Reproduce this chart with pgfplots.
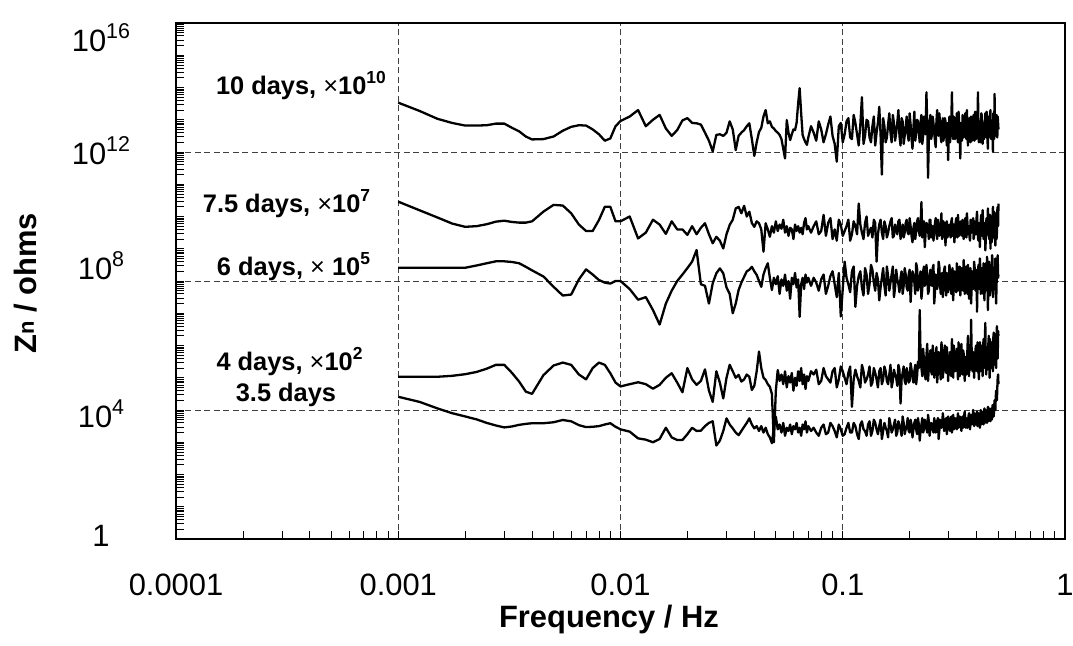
\documentclass[border=0pt]{standalone}
\usepackage{fontspec}
\setmainfont{Liberation Sans}
\usepackage{pgfplots}
\pgfplotsset{compat=1.18}
\usepackage{pgfplotstable}

% log10 of Z_n (shifted curves), f in Hz
% a: 10 days x1e10, b: 7.5 days x1e7, c: 6 days x1e5, d: 4 days x1e2, e: 3.5 days
\pgfplotstableread{
f a b c d e
0.001 13.53 10.46 8.41 5.03 4.41
0.00125 13.27 10.19 8.41 5.03 4.25
0.0015 13.03 9.97 8.41 5.03 4.05
0.00175 12.90 9.78 8.41 5.06 3.90
0.002 12.82 9.68 8.41 5.11 3.80
0.00225 12.82 9.70 8.48 5.18 3.71
0.0025 12.83 9.76 8.55 5.28 3.60
0.00275 12.88 9.84 8.61 5.40 3.52
0.003 12.88 9.87 8.61 5.40 3.46
0.00325 12.75 9.83 8.59 5.15 3.49
0.0035 12.64 9.81 8.55 4.88 3.54
0.00375 12.48 9.81 8.44 4.57 3.57
0.004 12.39 9.85 8.33 4.50 3.59
0.0045 12.40 10.15 8.14 5.08 3.59
0.005 12.48 10.36 7.82 5.38 3.62
0.0055 12.66 10.34 7.55 5.47 3.69
0.006 12.78 10.10 7.58 5.40 3.65
0.0065 12.83 9.75 8.05 5.10 3.53
0.007 12.82 9.55 8.36 4.95 3.47
0.0075 12.70 9.55 8.20 5.30 3.48
0.008 12.55 9.89 8.03 5.47 3.50
0.0085 12.35 10.30 7.95 5.40 3.55
0.009 12.42 10.30 7.92 5.14 3.59
0.0095 12.80 9.85 8.00 4.85 3.48
0.010 12.96 9.85 8.00 4.73 3.40
0.011 13.10 10.00 7.75 4.80 3.33
0.012 13.30 9.32 7.42 4.86 3.12
0.013 12.80 9.50 7.50 4.80 3.08
0.014 13.00 9.90 7.10 4.66 3.00
0.015 13.15 9.75 6.65 4.78 3.10
0.016 12.73 9.46 7.30 5.00 3.45
0.017 12.50 9.85 7.70 5.14 3.15
0.018 12.68 9.60 8.00 4.85 3.07
0.019 12.98 9.60 8.20 4.55 3.07
0.020 13.05 9.43 8.40 5.30 3.25
0.021 12.90 9.70 8.60 4.95 3.45
0.022 12.89 9.45 8.96 4.78 3.35
0.023 12.85 9.65 7.90 4.90 3.36
0.024 12.60 9.79 7.85 5.26 3.50
0.025 12.35 9.45 7.30 4.60 3.60
0.026 12.02 9.17 7.93 4.25 3.65
0.027 12.53 9.37 8.24 5.20 2.90
0.028 12.55 9.25 8.39 4.85 3.05
0.029 12.50 9.01 8.24 4.36 3.35
0.030 12.60 9.45 7.80 5.00 3.74
0.031 12.95 9.74 7.60 5.40 3.55
0.032 12.70 9.90 7.00 5.20 3.43
0.033 12.06 10.25 7.30 5.00 3.30
0.034 12.50 10.30 7.72 5.09 3.22
0.035 12.60 10.10 7.95 4.88 3.35
0.036 12.68 10.33 8.13 4.95 3.48
0.037 12.80 10.00 8.30 5.10 3.60
0.038 12.89 10.15 8.35 5.03 3.74
0.039 12.40 9.80 8.44 4.62 3.55
0.040 11.88 9.68 8.30 4.75 3.43
0.041 12.30 9.85 8.19 5.20 3.50
0.042 12.62 9.79 8.00 5.81 3.35
0.043 12.75 9.60 7.82 5.30 3.50
0.044 13.10 8.91 8.20 5.00 3.30
0.045 13.30 9.79 8.40 4.93 3.45
0.046 12.89 9.60 8.55 4.80 3.25
0.047 12.95 9.37 8.10 4.72 3.15
0.048 12.78 9.70 7.72 4.50 2.97
0.049 12.73 9.50 8.10 3.00 3.45
0.050 12.65 9.85 7.90 4.60 3.79
0.051 12.60 9.55 8.15 5.24 3.40
0.052 12.53 9.75 7.60 4.90 3.55
0.053 12.40 9.62 8.05 5.10 3.30
0.054 12.10 9.90 7.85 4.80 3.60
0.055 11.80 9.50 8.20 5.20 3.20
0.056 12.99 9.70 7.70 4.70 3.45
0.057 12.60 9.40 8.00 5.05 3.35
0.058 12.37 9.65 7.45 4.85 3.55
0.059 12.55 9.60 8.10 5.15 3.25
0.060 12.70 9.30 7.90 4.60 3.50
0.061 12.68 9.75 8.25 5.00 3.40
0.062 12.90 9.55 7.80 4.75 3.60
0.063 13.50 9.70 8.05 5.20 3.30
0.064 13.98 9.50 6.89 4.90 3.45
0.065 13.20 9.65 7.90 5.30 3.20
0.066 12.53 9.45 8.10 4.80 3.55
0.067 12.40 9.80 7.75 5.10 3.40
0.068 12.30 9.95 8.20 4.65 3.65
0.069 12.22 9.60 7.95 5.05 3.30
0.070 12.45 9.70 8.10 4.90 3.50
0.072 12.80 9.50 7.85 5.20 3.35
0.074 12.60 9.70 8.10 5.10 3.45
0.076 12.35 9.85 7.95 5.25 3.30
0.078 12.95 9.45 7.70 4.80 3.20
0.080 12.70 9.55 8.05 4.90 3.45
0.082 12.30 10.05 8.20 5.30 3.55
0.084 12.55 9.40 7.60 5.05 3.25
0.086 12.85 9.80 7.85 4.95 3.30
0.088 13.10 9.95 8.15 4.85 3.60
0.090 12.50 9.30 8.30 5.20 3.50
0.092 12.25 9.60 7.90 5.30 3.35
0.094 11.70 9.25 7.50 4.70 3.15
0.096 12.80 9.90 8.25 4.95 3.55
0.098 12.90 9.75 6.90 5.35 3.40
0.100 12.30 9.40 7.75 5.20 3.20
0.102 12.55 9.55 8.60 5.00 3.25
0.104 12.95 9.70 8.10 4.80 3.45
0.106 13.05 9.90 7.90 5.15 3.60
0.108 12.45 9.25 7.65 5.35 3.30
0.110 12.40 9.45 8.30 4.10 3.30
0.112 13.15 9.85 8.45 4.95 3.60
0.114 12.90 9.70 7.20 5.25 3.50
0.116 12.55 9.45 7.85 5.05 3.25
0.118 12.20 10.40 8.15 4.90 3.10
0.120 12.85 9.75 8.30 4.70 3.55
0.122 13.70 9.50 7.80 5.40 3.65
0.124 12.25 9.30 7.55 5.20 3.40
0.126 12.50 9.80 8.40 4.85 3.35
0.128 13.00 10.00 8.20 4.95 3.20
0.130 12.95 9.40 7.60 5.10 3.55
0.132 12.45 9.55 7.90 5.35 3.65
0.134 12.30 9.65 8.50 4.75 3.20
0.136 12.80 9.35 8.35 4.85 3.35
0.138 13.10 9.90 7.95 5.30 3.70
0.140 12.20 9.80 7.70 5.15 3.60
0.142 12.60 8.60 8.25 4.95 3.40
0.144 12.90 9.45 8.05 4.70 3.25
0.146 13.40 9.75 7.40 5.20 3.50
0.148 12.55 9.90 7.80 5.30 3.70
0.150 11.30 9.50 8.10 4.80 3.10
0.152 13.05 9.30 8.40 4.95 3.35
0.154 12.80 9.85 7.85 5.35 3.60
0.156 12.30 9.70 7.55 5.20 3.45
0.158 12.45 9.35 8.45 4.90 3.35
0.160 12.85 9.50 8.15 4.80 3.15
0.162 13.20 9.70 7.70 5.10 3.75
0.164 12.60 9.85 7.95 5.40 3.55
0.166 12.30 9.95 8.20 4.70 3.30
0.168 13.15 9.35 8.45 4.90 3.40
0.170 12.90 9.40 7.50 5.25 3.55
0.172 12.35 9.75 7.80 5.10 3.70
0.174 12.60 9.60 8.35 5.00 3.20
0.176 12.90 9.45 8.05 4.75 3.30
0.178 13.30 9.85 7.90 5.40 3.65
0.180 12.50 9.90 7.65 5.25 3.55
0.182 12.20 9.30 8.10 4.20 3.40
0.184 13.05 9.55 8.30 4.95 3.20
0.186 12.95 9.75 7.60 5.15 3.80
0.188 12.25 9.35 7.85 5.35 3.60
0.190 12.50 9.50 8.40 4.90 3.25
0.192 12.80 9.80 8.20 4.80 3.40
0.194 13.10 9.90 7.80 5.30 3.50
0.196 12.55 9.50 7.70 5.15 3.75
0.198 12.35 9.45 8.20 4.85 3.35
0.200 13.20 9.95 8.35 4.90 3.30
0.202 12.85 9.70 7.35 5.45 3.70
0.204 12.40 9.40 7.95 5.25 3.55
0.206 12.10 9.20 8.30 5.00 3.15
0.208 12.75 9.65 8.15 4.85 3.40
0.210 13.25 9.80 7.95 5.20 3.60
0.212 12.35 9.30 7.60 5.40 3.70
0.214 12.60 9.55 8.55 4.80 3.40
0.216 13.00 9.85 8.40 5.05 3.25
0.218 12.95 9.95 7.70 5.50 3.75
0.220 12.60 9.55 7.90 5.30 3.55
0.222 12.30 9.40 8.15 7.10 3.05
0.224 12.90 9.75 8.30 5.65 3.35
0.226 13.15 10.45 7.45 5.30 3.55
0.228 12.25 9.35 7.75 5.05 3.75
0.230 12.50 9.50 8.30 5.90 3.30
0.232 13.10 9.85 8.45 5.55 3.40
0.234 12.80 9.05 7.85 5.10 3.70
0.236 12.55 9.50 7.95 4.95 3.60
0.238 13.85 9.80 8.50 5.70 3.45
0.240 12.85 9.75 8.20 6.05 3.30
0.242 11.20 9.60 7.60 4.90 3.85
0.244 12.40 9.30 7.70 5.30 3.65
0.246 12.90 9.90 8.10 5.60 3.20
0.248 13.15 9.90 8.35 5.85 3.45
0.250 12.40 9.35 7.90 5.20 3.60
0.252 12.55 9.55 7.85 5.10 3.55
0.254 13.10 9.70 8.40 6.00 3.40
0.256 12.90 9.25 8.50 5.75 3.30
0.258 12.60 9.50 7.30 5.00 3.75
0.260 12.35 9.80 7.65 5.35 3.60
0.262 12.15 9.95 8.20 5.55 3.30
0.264 12.95 9.55 8.15 5.95 3.40
0.266 13.30 9.30 7.75 4.85 3.65
0.268 12.60 9.90 7.90 5.20 3.75
0.270 12.50 9.75 8.60 5.80 3.10
0.272 13.20 9.40 8.45 5.50 3.35
0.274 12.90 9.55 7.90 5.25 3.70
0.276 12.45 9.70 7.60 4.95 3.60
0.278 12.30 10.10 8.15 6.10 3.45
0.280 12.85 9.30 8.25 5.85 3.50
0.282 13.05 9.40 7.50 5.00 3.90
0.284 12.35 9.85 7.95 5.25 3.70
0.286 12.60 9.70 8.35 5.60 3.35
0.288 13.05 9.55 8.45 6.00 3.40
0.290 12.95 9.10 7.80 5.30 3.60
0.292 12.55 9.80 7.55 5.15 3.75
0.294 12.20 9.85 8.25 5.95 3.25
0.296 12.90 9.35 8.10 5.65 3.45
0.298 11.75 9.50 7.65 4.90 3.80
0.300 12.50 9.70 7.85 5.35 3.65
0.302 13.10 9.75 8.50 5.50 3.50
0.304 12.30 9.45 8.30 5.80 3.35
0.306 12.70 9.35 7.95 5.15 3.70
0.308 12.95 9.85 7.60 5.05 3.80
0.310 13.85 9.95 8.10 6.20 3.30
0.312 12.55 9.40 8.40 5.55 3.55
0.314 12.40 9.60 7.40 5.00 3.85
0.316 13.10 9.75 7.90 6.00 3.40
0.318 12.85 9.20 8.30 5.70 3.45
0.320 12.40 9.55 8.15 5.20 3.75
0.322 12.55 9.80 7.85 5.30 3.65
0.324 12.80 9.95 7.65 5.70 3.50
0.326 13.20 9.55 8.55 5.90 3.40
0.328 12.50 9.35 8.35 5.35 3.70
0.330 12.30 10.05 7.70 4.95 3.90
0.332 13.25 9.70 7.95 6.10 3.45
0.334 12.90 9.40 8.20 5.60 3.50
0.336 12.45 9.55 8.45 5.05 3.80
0.338 11.80 9.70 7.55 5.20 3.75
0.340 12.90 9.85 7.80 5.60 3.55
0.342 12.75 9.50 8.40 6.05 3.35
0.344 12.35 9.40 8.25 5.35 3.65
0.346 13.15 9.90 7.90 5.10 3.80
0.348 12.85 9.75 7.70 5.85 3.45
0.350 12.45 9.30 8.65 5.75 3.55
0.352 12.60 9.50 8.35 5.20 3.85
0.354 12.95 9.75 7.60 4.90 3.95
0.356 13.20 9.95 7.90 5.65 3.55
0.358 12.60 9.55 8.25 5.50 3.45
0.360 12.40 9.35 8.45 5.10 3.75
0.362 13.30 10.10 7.80 5.25 3.70
0.364 12.75 9.80 7.60 5.90 3.45
0.366 12.20 9.45 8.50 6.30 3.50
0.368 12.55 9.55 8.20 5.30 3.80
0.370 12.85 9.70 7.45 5.05 3.90
0.372 13.05 9.35 7.85 5.75 3.60
0.374 12.50 9.25 8.30 5.65 3.40
0.376 12.30 9.90 8.40 5.25 3.85
0.378 13.10 9.85 7.30 6.80 3.80
0.380 12.85 9.50 7.75 5.95 3.55
0.382 12.35 9.60 8.15 5.30 3.60
0.384 12.55 9.70 8.30 5.20 3.75
0.386 13.00 9.95 7.75 5.80 4.00
0.388 13.15 9.30 7.95 5.70 3.65
0.390 12.60 9.40 8.60 5.00 3.50
0.392 12.35 9.85 8.45 5.35 3.90
0.394 13.25 9.75 7.90 5.55 3.85
0.396 12.80 9.45 7.70 5.90 3.60
0.398 12.40 9.50 8.35 6.00 3.55
0.400 12.60 9.95 8.25 5.40 3.80
0.402 12.90 10.15 7.05 5.20 3.95
0.404 13.05 9.60 7.90 6.10 3.50
0.406 13.85 9.35 8.20 5.70 3.60
0.408 12.45 9.25 8.50 5.25 3.90
0.410 12.30 9.80 7.80 4.95 3.80
0.412 12.85 9.75 7.75 5.85 3.70
0.414 12.95 9.05 8.70 6.10 3.45
0.416 12.30 9.50 8.35 5.20 3.85
0.418 12.55 9.90 7.60 5.35 4.00
0.420 13.20 10.05 7.85 6.00 3.55
0.422 13.15 9.55 8.30 5.80 3.65
0.424 12.55 9.40 8.40 5.45 3.95
0.426 12.25 10.20 7.95 5.05 3.85
0.428 12.90 9.85 7.60 5.90 3.70
0.430 12.90 9.30 8.55 6.20 3.55
0.432 12.40 9.55 8.25 5.30 3.85
0.434 12.60 9.70 7.40 5.40 4.05
0.436 13.00 9.80 7.95 6.15 3.60
0.438 13.20 8.95 8.20 6.70 3.70
0.440 12.65 9.25 8.55 5.40 4.00
0.442 12.45 9.85 7.85 5.10 3.90
0.444 13.25 9.95 7.70 5.95 3.75
0.446 12.95 9.50 8.75 5.90 3.60
0.448 12.35 9.45 8.35 5.25 3.90
0.450 12.10 10.25 7.10 5.30 4.10
0.452 12.85 9.90 7.85 6.05 3.65
0.454 13.10 9.40 8.30 6.30 3.70
0.456 12.55 9.30 8.60 5.45 4.05
0.458 12.55 9.80 7.70 5.00 4.00
0.460 13.15 10.05 7.55 6.20 3.80
0.462 13.30 9.00 8.50 5.75 3.65
0.464 12.45 9.55 8.30 5.30 3.95
0.466 12.40 10.00 7.90 5.40 4.05
0.468 12.95 9.20 7.95 6.00 3.70
0.470 12.85 9.45 8.80 6.10 3.75
0.472 12.60 9.85 8.65 5.55 4.15
0.474 12.00 10.30 7.50 5.20 4.10
0.476 13.20 9.55 7.70 6.25 3.85
0.478 13.10 9.35 8.35 6.40 3.80
0.480 12.40 10.15 8.40 5.40 4.05
0.482 13.80 9.90 7.80 5.50 4.30
0.484 12.90 9.40 7.95 6.35 4.20
0.486 12.50 9.10 8.70 6.00 4.00
0.488 12.55 9.95 8.55 5.60 4.40
0.490 13.00 10.10 7.30 5.30 4.60
0.492 13.15 9.30 7.85 6.15 4.50
0.494 12.60 9.50 8.40 6.60 4.30
0.496 12.45 10.20 8.60 5.80 4.70
0.498 13.10 10.30 8.80 5.60 5.00
0.500 12.90 9.70 8.10 6.45 5.10
0.502 12.70 10.40 8.20 6.30 4.80
}\zdata

% minor tick lists
\def\yminor{1}
\foreach \k in {0,...,15}{\foreach \m in {2,...,10}{\xdef\yminor{\yminor,\m e\k}}}
\def\xminor{1e-4}
\foreach \k in {-4,...,-1}{\foreach \m in {2,...,9}{\xdef\xminor{\xminor,\m e\k}}}

% superscripts
\newcommand\tsup[1]{\raisebox{13bp}{\fontsize{21.5}{21.5}\selectfont #1}}
\newcommand\asup[1]{\raisebox{11bp}{\fontsize{17.5}{17.5}\selectfont #1}}

\begin{document}
\begin{tikzpicture}
\useasboundingbox (-176bp,-107bp) rectangle (897bp,539bp);
\begin{axis}[
  scale only axis, width=889bp, height=516bp,
  xmode=log, ymode=log,
  xmin=1e-4, xmax=1, ymin=1, ymax=1e16,
  xtick={1e-4,1e-3,1e-2,1e-1,1},
  xticklabels={0.0001,0.001,0.01,0.1,1},
  ytick={1,1e4,1e8,1e12,1e16},
  yticklabels={\raisebox{-7bp}{1},\raisebox{-17bp}{10\tsup{4}},\raisebox{1bp}{10\tsup{8}},\raisebox{-13bp}{10\tsup{12}},\raisebox{-29bp}{10\tsup{16}}},
  minor xtick/.expanded={\xminor},
  minor ytick/.expanded={\yminor},
  tick align=inside,
  xtick pos=bottom, ytick pos=left,
  major tick length=8bp, minor tick length=8bp,
  every tick/.style={black, line width=0.8bp},
  minor tick style={black, line width=0.7bp},
  grid=major,
  major grid style={black!75, line width=0.8bp, dash pattern=on 6bp off 3.5bp},
  axis line style={black, line width=1.2bp},
  every tick label/.append style={font=\fontsize{31}{31}\selectfont, inner sep=0pt},
  xticklabel style={anchor=base, yshift=-56bp},
  yticklabel style={anchor=base, xshift=-75bp},
  xlabel={Frequency / Hz},
  xlabel style={at={(axis description cs:0.487,0)}, anchor=base, yshift=-88bp, inner sep=0pt, font=\bfseries\fontsize{31}{31}\selectfont},
  ylabel={Z\raisebox{3bp}{\fontsize{22}{22}\selectfont n} / ohms},
  ylabel style={at={(axis description cs:-0.1564,0.496)}, anchor=base, inner sep=0pt, font=\bfseries\fontsize{31}{31}\selectfont},
  clip=true,
]
\addplot[black, line width=2.3bp, line join=round] table[x=f, y expr={10^(\thisrow{a})}] {\zdata};
\addplot[black, line width=2.3bp, line join=round] table[x=f, y expr={10^(\thisrow{b})}] {\zdata};
\addplot[black, line width=2.3bp, line join=round] table[x=f, y expr={10^(\thisrow{c})}] {\zdata};
\addplot[black, line width=2.3bp, line join=round] table[x=f, y expr={10^(\thisrow{d})}] {\zdata};
\addplot[black, line width=2.3bp, line join=round] table[x=f, y expr={10^(\thisrow{e})}] {\zdata};

\begin{scope}[every node/.style={anchor=base, inner sep=0pt, font=\bfseries\fontsize{25.5}{25.5}\selectfont}]
\node at (axis description cs:0.1406,0.8605) {10 days, {\mdseries ×}10\asup{10}};
\node at (axis description cs:0.1243,0.6337) {7.5 days, {\mdseries ×}10\asup{7}};
\node at (axis description cs:0.1322,0.5116) {6 days, {\mdseries ×} 10\asup{5}};
\node at (axis description cs:0.1277,0.3275) {4 days, {\mdseries ×}10\asup{2}};
\node at (axis description cs:0.1237,0.2674) {3.5 days};
\end{scope}
\end{axis}
\end{tikzpicture}
\end{document}
